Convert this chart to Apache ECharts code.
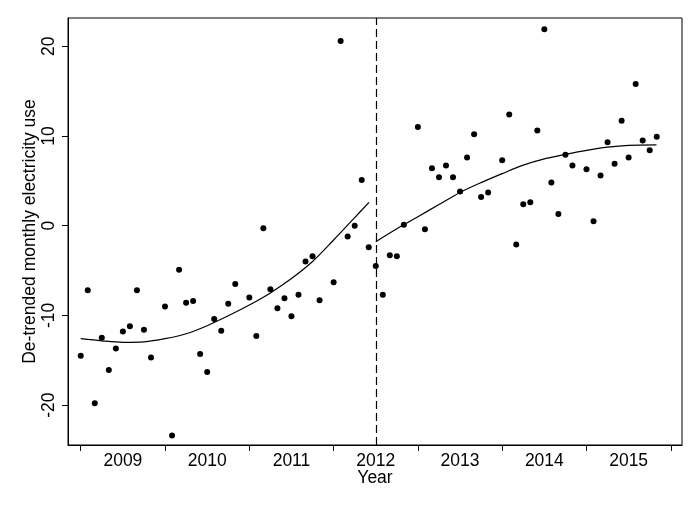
<!DOCTYPE html>
<html>
<head>
<meta charset="utf-8">
<script src="https://cdn.jsdelivr.net/npm/echarts@6/dist/echarts.min.js"></script>
<style>
html,body{margin:0;padding:0;background:#fff;}
#chart{width:700px;height:509px;}
</style>
</head>
<body>
<div id="chart"></div>
<script>
// Observed months (December not present in the data)
const observedMonths = [1,2,3,4,5,6,7,8,9,10,11];
const years = [2009,2010,2011,2012,2013,2014,2015];
const use2009 = [-14.5,-7.2,-19.8,-12.5,-16.1,-13.7,-11.8,-11.2,-7.2,-11.6,-14.7];
const use2010 = [-9.0,-23.4,-4.9,-8.6,-8.4,-14.3,-16.3,-10.4,-11.7,-8.7,-6.5];
const use2011 = [-8.0,-12.3,-0.3,-7.1,-9.2,-8.1,-10.1,-7.7,-4.0,-3.4,-8.3];
const use2012 = [-6.3,20.6,-1.2,0.0,5.1,-2.4,-4.5,-7.7,-3.3,-3.4,0.1];
const use2013 = [11.0,-0.4,6.4,5.4,6.7,5.4,3.8,7.6,10.2,3.2,3.7];
const use2014 = [7.3,12.4,-2.1,2.4,2.6,10.6,21.9,4.8,1.3,7.9,6.7];
const use2015 = [6.3,0.5,5.6,9.3,6.9,11.7,7.6,15.8,9.5,8.4,9.9];
const useByYear = [use2009,use2010,use2011,use2012,use2013,use2014,use2015];

// Fitted curves (decimal year, value)
const fitPreX  = [2009.0,2009.25,2009.5,2009.75,2010.0,2010.25,2010.5,2010.75,2011.0,2011.25,2011.5,2011.75,2012.0,2012.25,2012.42];
const fitPreY  = [-12.6,-12.84,-13.0,-12.95,-12.6,-12.05,-11.15,-10.05,-8.85,-7.5,-5.9,-4.0,-1.6,0.9,2.6];
const fitPostX = [2012.5,2012.75,2013.0,2013.25,2013.5,2013.75,2014.0,2014.25,2014.5,2014.75,2015.0,2015.25,2015.5,2015.83];
const fitPostY = [-1.8,-0.35,1.0,2.35,3.7,4.8,5.8,6.75,7.45,7.95,8.4,8.75,8.95,9.0];

const breakYear = 2012.5;
const xTickValues = [2009,2010,2011,2012,2013,2014,2015,2016];
const xLabelValues = [2009.5,2010.5,2011.5,2012.5,2013.5,2014.5,2015.5];
const xLabelTexts = ['2009','2010','2011','2012','2013','2014','2015'];
const yTickValues = [-20,-10,0,10,20];

const points = [];
years.forEach((yr, i) => {
  observedMonths.forEach((m, j) => {
    points.push([yr + (m - 1) / 12, useByYear[i][j]]);
  });
});
const preLine = fitPreX.map((x, i) => [x, fitPreY[i]]);
const postLine = fitPostX.map((x, i) => [x, fitPostY[i]]);

const font = "'Liberation Sans', Arial, sans-serif";
const fs = 17.5;
const chart = echarts.init(document.getElementById('chart'));
chart.setOption({
  backgroundColor: '#fff',
  animation: false,
  grid: {left: 68, right: 18, top: 18, bottom: 64, show: true, borderColor: '#000', borderWidth: 1, backgroundColor: 'transparent'},
  xAxis: {
    type: 'value', min: 2008.849, max: 2016.133,
    name: 'Year', nameLocation: 'middle', nameGap: 24, nameMoveOverlap: false,
    nameTextStyle: {color: '#000', fontSize: fs, fontFamily: font},
    axisLine: {onZero: false, lineStyle: {color: '#000', width: 1}},
    axisTick: {show: true, length: 6, customValues: xTickValues, lineStyle: {color: '#000'}},
    axisLabel: {customValues: xLabelValues, color: '#000', fontSize: fs, fontFamily: font, margin: 7,
      interval: 0, hideOverlap: false, showMinLabel: true, showMaxLabel: true,
      formatter: v => { const k = xLabelValues.findIndex(a => Math.abs(a - v) < 1e-6); return k >= 0 ? xLabelTexts[k] : ''; }},
    splitLine: {show: false}
  },
  yAxis: {
    type: 'value', min: -24.45, max: 23.15,
    name: 'De-trended monthly electricity use', nameLocation: 'middle', nameGap: 29, nameRotate: 90, nameMoveOverlap: false,
    nameTextStyle: {color: '#000', fontSize: fs, fontFamily: font},
    axisLine: {show: true, onZero: false, lineStyle: {color: '#000', width: 1}},
    axisTick: {show: true, length: 6, customValues: yTickValues, lineStyle: {color: '#000'}},
    axisLabel: {customValues: yTickValues, rotate: 90, color: '#000', fontSize: fs, fontFamily: font, margin: 10,
      interval: 0, hideOverlap: false, showMinLabel: true, showMaxLabel: true},
    splitLine: {show: false}
  },
  series: [
    {type: 'scatter', data: points, symbolSize: 6, itemStyle: {color: '#000', opacity: 1},
     markLine: {silent: true, symbol: 'none', label: {show: false},
       lineStyle: {color: '#000', type: [8, 4], width: 1.2},
       data: [{xAxis: breakYear}]}},
    {type: 'line', data: preLine, smooth: 0.3, showSymbol: false, lineStyle: {color: '#000', width: 1.2}},
    {type: 'line', data: postLine, smooth: 0.3, showSymbol: false, lineStyle: {color: '#000', width: 1.2}}
  ]
});
</script>
</body>
</html>
